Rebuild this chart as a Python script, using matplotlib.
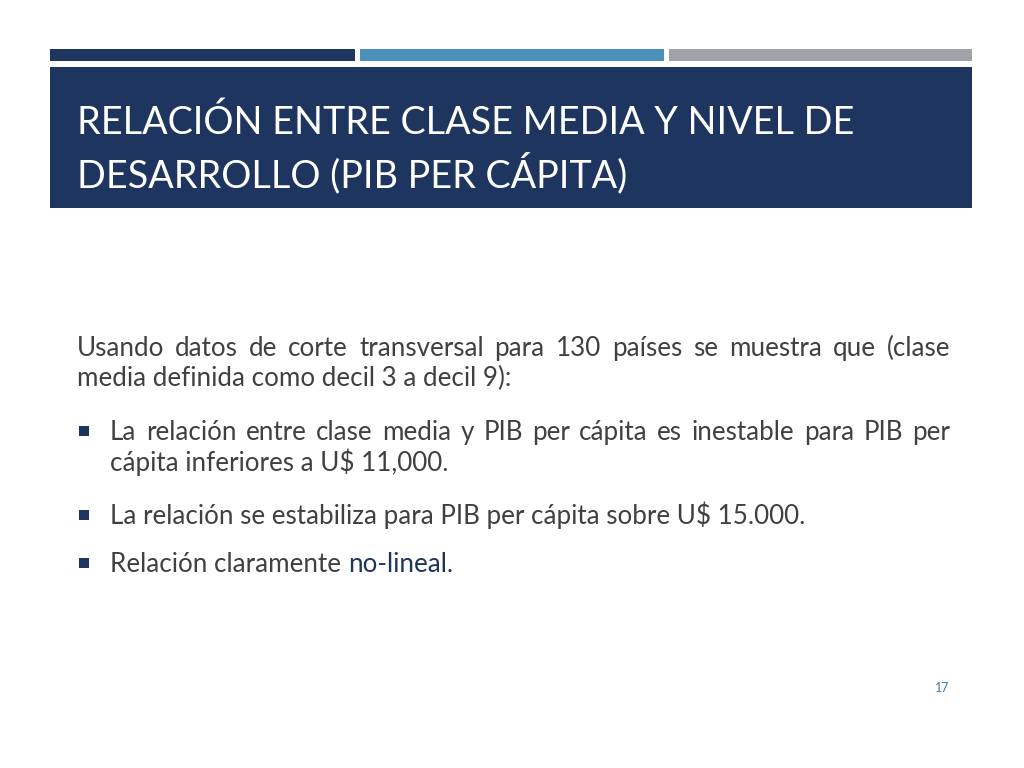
import matplotlib.pyplot as plt
from matplotlib.patches import Rectangle

# slide content
title_lines = ['RELACIÓN ENTRE CLASE MEDIA Y NIVEL DE', 'DESARROLLO (PIB PER CÁPITA)']
intro_lines = ['Usando datos de corte transversal para 130 países se muestra que (clase',
               'media definida como decil 3 a decil 9):']
bullets = [
    ['La relación entre clase media y PIB per cápita es inestable para PIB per',
     'cápita inferiores a U$ 11,000.'],
    ['La relación se estabiliza para PIB per cápita sobre U$ 15.000.'],
    ['Relación claramente ', 'no-lineal.'],
]
page_number = '17'

navy = '#1e3560'
blue = '#4a90ba'
grey = '#9fa3a8'
text_grey = '#404040'

plt.rcParams['font.family'] = ['Lato', 'DejaVu Sans']

fig = plt.figure(figsize=(10.24, 7.68), dpi=100)
ax = fig.add_axes([0, 0, 1, 1])
ax.set_xlim(0, 1024)
ax.set_ylim(768, 0)
ax.axis('off')

# top strips and title box
ax.add_patch(Rectangle((50, 49), 305, 12, color=navy, lw=0))
ax.add_patch(Rectangle((360, 49), 304, 12, color=blue, lw=0))
ax.add_patch(Rectangle((669, 49), 303, 12, color=grey, lw=0))
ax.add_patch(Rectangle((50, 67), 922, 141, color=navy, lw=0))

fig.canvas.draw()
r = fig.canvas.get_renderer()


def width(t):
    bb = t.get_window_extent(renderer=r)
    return bb.width


def fit_size(s, target, base=20):
    t = ax.text(0, 0, s, fontsize=base)
    w = width(t)
    t.remove()
    return base * target / w


def justify(s, x0, x1, y, size, color):
    words = s.split(' ')
    ts = [ax.text(0, y, w, fontsize=size, color=color, va='baseline') for w in words]
    ws = [width(t) for t in ts]
    gap = (x1 - x0 - sum(ws)) / (len(words) - 1)
    x = x0
    for t, w in zip(ts, ws):
        t.set_x(x)
        x += w + gap


tsize = fit_size(title_lines[0], 776)
ax.text(77, 134, title_lines[0], fontsize=tsize, color='white', va='baseline')
ax.text(77, 187, title_lines[1], fontsize=tsize, color='white', va='baseline')

bsize = fit_size(bullets[1][0], 696)

justify(intro_lines[0], 77, 950, 356, bsize, text_grey)
ax.text(77, 386, intro_lines[1], fontsize=bsize, color=text_grey, va='baseline')

justify(bullets[0][0], 110, 950, 440, bsize, text_grey)
ax.text(110, 471, bullets[0][1], fontsize=bsize, color=text_grey, va='baseline')
ax.text(110, 524, bullets[1][0], fontsize=bsize, color=text_grey, va='baseline')
t = ax.text(110, 572, bullets[2][0], fontsize=bsize, color=text_grey, va='baseline')
ax.text(110 + width(t), 572, bullets[2][1], fontsize=bsize, color=navy, va='baseline')

for yb in [431, 515, 563]:
    ax.add_patch(Rectangle((79, yb - 5), 10, 10, color=navy, lw=0))

ax.text(942, 688, page_number, fontsize=9, color='#3a7fb5', ha='center', va='center')

fig.savefig('out.png', dpi=100, facecolor='white')
